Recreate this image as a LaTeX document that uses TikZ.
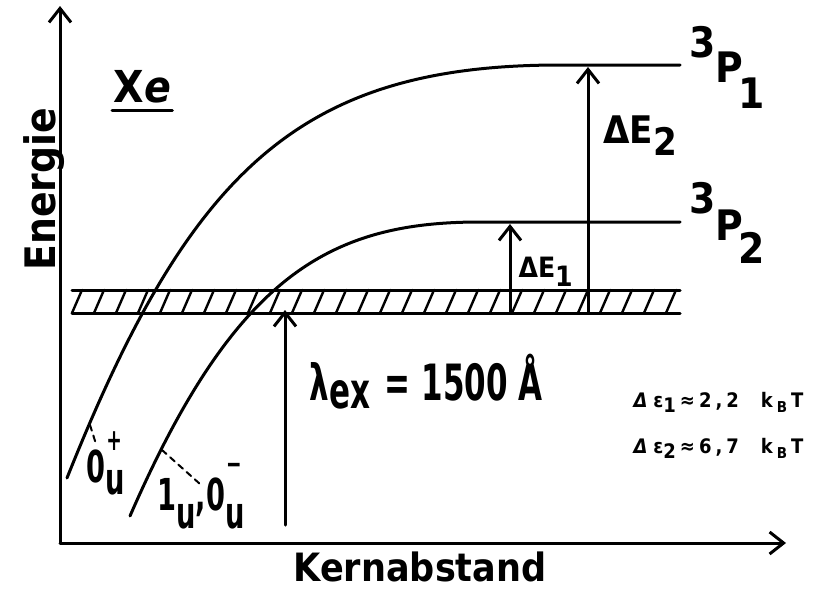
\documentclass[tikz,border=0pt]{standalone}
\usepackage{fontspec}
\setmainfont{DejaVu Sans}[FakeStretch=0.9]
\newfontfamily\narrowfont{DejaVu Sans}[FakeStretch=0.62]
\usetikzlibrary{arrows.meta,positioning,calc}
\newcommand{\setfs}[1]{\fontsize{#1}{#1}\selectfont}
\tikzset{
    every node/.style={inner sep=0pt, anchor=base west},
    barb/.style={-{Straight Barb[length=14pt,width=22pt]}},
    hatch/.style={line width=2.4pt},
    guide/.style={line width=2pt, dash pattern=on 6pt off 5pt},
    smalltext/.style={font=\bfseries\setfs{20}}
}

\begin{document}
\begin{tikzpicture}[x=1pt, y=-1pt, line width=3pt, line cap=round]
    \useasboundingbox (0,0) rectangle (821,589);

    % Axes
    \coordinate (origin) at (60,543);
    \coordinate (ytip) at (60,6);
    \coordinate (xtip) at (786,543);
    \draw[barb] (origin) -- (ytip);
    \draw[barb] (origin) -- (xtip);
    \node[rotate=90, font=\bfseries\setfs{42}] (energie) at (55,272) {Energie};
    \node[font=\bfseries\setfs{39}] (kern) at (292,581) {Kernabstand};

    % Xe
    \node[font=\bfseries\setfs{44}] (xe) at (112,102) {X\textit{e}};
    \draw ($(xe.base west)+(0,8)$) -- ($(xe.base east)+(0,8)$);

    % Hatched band
    \coordinate (bandtl) at (72,290);
    \coordinate (bandtr) at (680,290);
    \coordinate (bandbl) at (72,313);
    \coordinate (bandbr) at (680,313);
    \draw (bandtl) -- (bandtr);
    \draw (bandbl) -- (bandbr);
    \foreach \x in {72,94,...,666}
        \draw[hatch] (\x,313) -- (\x+10,290);

    % Potential curves
    \coordinate (p1end) at (680,65);
    \coordinate (p2end) at (680,222);
    \draw (67,478) .. controls (190,170) and (300,65) .. (560,65) -- (p1end);
    \draw (130,516) .. controls (235,275) and (330,222) .. (480,222) -- (p2end);

    % Level labels
    \node[font=\bfseries\setfs{42}] (p1) at (688,82) {\raisebox{25pt}{3}P\hspace{-5pt}\raisebox{-26pt}{1}};
    \node[font=\bfseries\setfs{42}] (p2) at (688,240) {\raisebox{27pt}{3}P\hspace{-5pt}\raisebox{-23pt}{2}};

    % Excitation
    \draw[barb] (285,525) -- (285,310);
    \node[font=\narrowfont\bfseries\setfs{50}] (lambda) at (308,400) {λ\raisebox{-8pt}{ex}\hspace{4pt} = 1500 Å};

    % Energy gaps
    \draw[barb] (510,313) -- (510,224);
    \draw[barb] (588,313) -- (588,67);
    \node[font=\bfseries\setfs{28}] (de1) at (517,277) {ΔE\raisebox{-9pt}{1}};
    \node[font=\bfseries\setfs{38}] (de2) at (602,143) {ΔE\raisebox{-12pt}{2}};

    % State labels
    \draw[guide] (90,425) -- (96,444);
    \draw[guide] (162,450) -- (200,484);
    \node[font=\narrowfont\bfseries\setfs{44}] (ou) at (85,482) {0\raisebox{-12pt}{u}\llap{\raisebox{32pt}{\setfs{30}+}\hspace{3pt}}};
    \node[font=\narrowfont\bfseries\setfs{44}] (iu) at (156,510) {1\raisebox{-18pt}{u},0\raisebox{-18pt}{u}\llap{\raisebox{36pt}{\setfs{30}−}\hspace{3pt}}};

    % Thermal energies
    \node[smalltext] (e1) at (632,407) {\textit{Δ}\hspace{6pt}ε\raisebox{-5pt}{1}\hspace{4pt}≈\hspace{4pt}2\hspace{4pt},\hspace{4pt}2\hspace{22pt}k\hspace{4pt}\raisebox{-5pt}{\setfs{15}B}\hspace{4pt}T};
    \node[smalltext] (e2) at (632,453) {\textit{Δ}\hspace{6pt}ε\raisebox{-5pt}{2}\hspace{4pt}≈\hspace{4pt}6\hspace{4pt},\hspace{4pt}7\hspace{22pt}k\hspace{4pt}\raisebox{-5pt}{\setfs{15}B}\hspace{4pt}T};
\end{tikzpicture}
\end{document}
